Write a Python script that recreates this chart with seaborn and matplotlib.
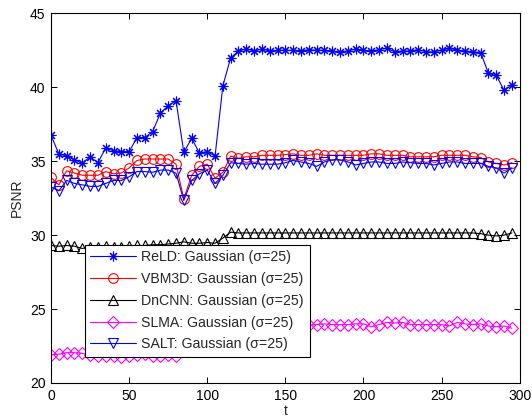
import numpy as np
import pandas as pd
import matplotlib
matplotlib.use("Agg")
import matplotlib.pyplot as plt
import seaborn as sns

# frame index (every 5th frame)
t = list(range(0, 300, 5))

reld = [36.75, 35.5, 35.35, 35.1, 34.85, 35.3, 34.9, 35.9, 35.7, 35.65,
        35.65, 36.6, 36.6, 37.0, 38.25, 38.75, 39.1, 35.6, 36.55, 35.55,
        35.65, 35.35, 40.1, 42.0, 42.45, 42.6, 42.45, 42.6, 42.45, 42.5,
        42.5, 42.5, 42.45, 42.55, 42.5, 42.5, 42.45, 42.4, 42.45, 42.6,
        42.5, 42.45, 42.55, 42.65, 42.4, 42.45, 42.45, 42.55, 42.4, 42.4,
        42.5, 42.65, 42.5, 42.45, 42.4, 42.35, 40.95, 40.8, 39.8, 40.15]

vbm3d = [33.9, 33.4, 34.35, 34.2, 34.05, 34.05, 34.05, 34.3, 34.15, 34.2,
         34.55, 35.05, 35.15, 35.15, 35.15, 35.15, 34.8, 32.45, 34.05, 34.65,
         34.8, 33.85, 34.25, 35.35, 35.2, 35.3, 35.3, 35.4, 35.4, 35.4,
         35.45, 35.5, 35.4, 35.4, 35.5, 35.4, 35.4, 35.4, 35.4, 35.4,
         35.4, 35.5, 35.5, 35.4, 35.4, 35.4, 35.3, 35.3, 35.3, 35.3,
         35.4, 35.4, 35.4, 35.4, 35.3, 35.25, 34.95, 34.85, 34.75, 34.9]

dncnn = [29.3, 29.25, 29.3, 29.25, 29.1, 29.2, 29.2, 29.25, 29.2, 29.2,
         29.25, 29.3, 29.3, 29.35, 29.35, 29.4, 29.45, 29.55, 29.45, 29.45,
         29.5, 29.45, 29.8, 30.2, 30.15, 30.15, 30.15, 30.15, 30.15, 30.15,
         30.15, 30.15, 30.15, 30.15, 30.15, 30.15, 30.15, 30.15, 30.15, 30.15,
         30.15, 30.15, 30.15, 30.15, 30.15, 30.15, 30.15, 30.15, 30.15, 30.15,
         30.15, 30.15, 30.15, 30.15, 30.15, 30.1, 30.0, 29.95, 30.0, 30.15]

slma = [21.9, 21.95, 22.05, 22.05, 22.0, 21.9, 21.85, 21.85, 21.8, 21.75,
        21.8, 21.9, 21.95, 21.85, 21.85, 21.9, 21.85, 22.3, 22.3, 22.3,
        22.3, 22.3, 23.5, 23.9, 23.9, 23.9, 23.9, 23.9, 23.9, 23.9,
        23.9, 23.9, 23.9, 23.9, 23.95, 24.0, 23.95, 23.95, 23.95, 24.0,
        24.0, 23.8, 23.95, 24.1, 24.05, 24.1, 23.95, 23.95, 23.95, 23.95,
        23.95, 23.85, 24.1, 24.0, 23.95, 24.0, 23.85, 23.8, 23.85, 23.7]

salt = [33.25, 33.0, 33.7, 33.5, 33.4, 33.3, 33.3, 33.5, 33.7, 33.7,
        33.95, 34.3, 34.3, 34.25, 34.4, 34.4, 34.2, 32.35, 33.7, 34.15,
        34.4, 33.5, 34.05, 34.9, 34.85, 34.8, 34.85, 34.8, 34.8, 34.8,
        34.9, 35.05, 34.95, 34.85, 34.65, 34.95, 35.1, 35.1, 34.95, 34.75,
        34.85, 34.95, 34.95, 34.85, 34.85, 34.95, 34.9, 34.85, 34.85, 34.75,
        34.85, 34.95, 34.95, 34.85, 34.85, 34.85, 34.65, 34.55, 34.2, 34.55]

labels = ["ReLD: Gaussian (σ=25)", "VBM3D: Gaussian (σ=25)", "DnCNN: Gaussian (σ=25)",
          "SLMA: Gaussian (σ=25)", "SALT: Gaussian (σ=25)"]
series = [reld, vbm3d, dncnn, slma, salt]
colors = ["#0000ff", "#ff0000", "#000000", "#ff00ff", "#0000ff"]
markers = [(8, 2, 0), "o", "^", "D", "v"]
msizes = [7, 7, 7, 6.3, 7]

sns.set_theme(style="ticks")
plt.rcParams["font.family"] = ["Liberation Sans", "DejaVu Sans"]
plt.rcParams["xtick.direction"] = "in"
plt.rcParams["ytick.direction"] = "in"

fig = plt.figure(figsize=(5.32, 4.19), dpi=100)
ax = fig.add_axes([0.0959, 0.086, 0.881, 0.882])

for vals, lab, c, m, ms in zip(series, labels, colors, markers, msizes):
    df = pd.DataFrame({"t": t, "psnr": vals})
    sns.lineplot(data=df, x="t", y="psnr", ax=ax, color=c, marker=m,
                 markersize=ms, markerfacecolor="none", markeredgecolor=c,
                 markeredgewidth=0.8, linewidth=0.8, label=lab)

ax.set_xlim(0, 300)
ax.set_ylim(20, 45)
ax.set_xticks(range(0, 301, 50))
ax.set_yticks(range(20, 46, 5))
ax.tick_params(top=True, right=True, length=4, width=0.7, labelsize=10,
               colors="black", pad=4)
for s in ax.spines.values():
    s.set_color("black")
    s.set_linewidth(0.8)
ax.set_xlabel("t", fontsize=10, labelpad=1)
ax.set_ylabel("PSNR", fontsize=10, labelpad=4)

leg = ax.legend(loc="lower left", bbox_to_anchor=(0.072, 0.07), fontsize=10.2,
                frameon=True, fancybox=False, framealpha=1, edgecolor="black",
                handlelength=3.2, labelspacing=0.55, borderpad=0.4,
                handletextpad=0.4, borderaxespad=0)
leg.get_frame().set_linewidth(0.8)

fig.savefig("out.png", dpi=100)
